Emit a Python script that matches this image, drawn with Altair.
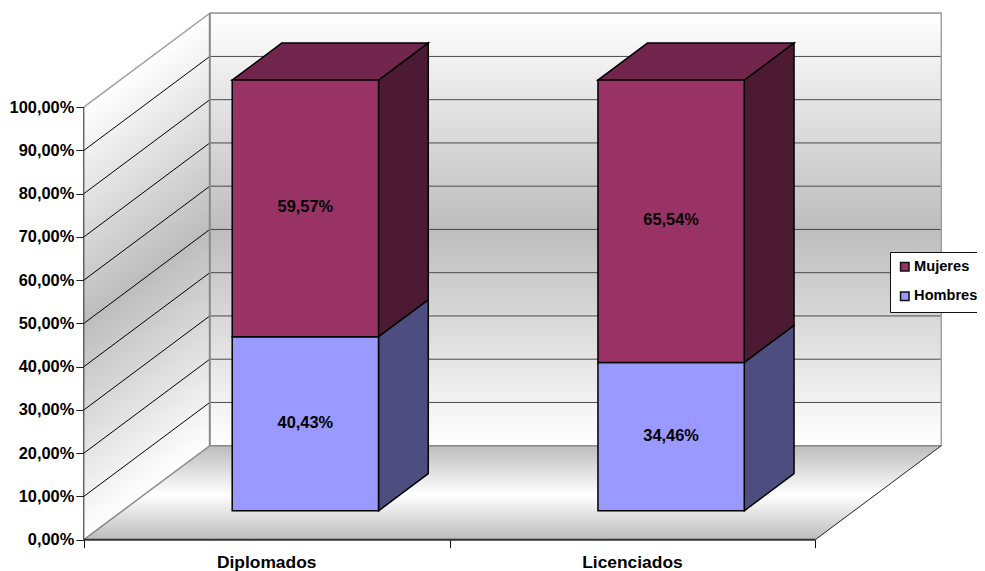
import altair as alt
import pandas as pd

categories = ["Diplomados", "Licenciados"]
series = ["Mujeres", "Hombres"]
mujeres = [59.57, 65.54]
hombres = [40.43, 34.46]
tick_values = [0, 10, 20, 30, 40, 50, 60, 70, 80, 90, 100]

# oblique projection: depth 0 = front of the box, depth 1 = back wall
W, H = 969, 563
ORIGIN_X, ORIGIN_Y = 75.8, 531.7      # plot pixel of category 0 / 0 %
PX_PER_CAT, PX_PER_PCT = 365.75, 4.325
DEPTH_X = 126 / PX_PER_CAT            # category units per unit of depth
DEPTH_Y = 94 / PX_PER_PCT             # percent units per unit of depth
BAR_W, BAR_D0, BAR_D = 0.40, 0.307, 0.395
BAR_SCALE = 0.996

x_scale = alt.Scale(domain=[-ORIGIN_X / PX_PER_CAT, (W - ORIGIN_X) / PX_PER_CAT], nice=False, zero=False)
y_scale = alt.Scale(domain=[(ORIGIN_Y - H) / PX_PER_PCT, ORIGIN_Y / PX_PER_PCT], nice=False, zero=False)

x_axis = alt.Axis(
    values=[0, 1, 2], orient="bottom", offset=-(H - ORIGIN_Y), domain=False, grid=False,
    labels=False, ticks=True, tickSize=8, tickColor="#111111", title=None)
y_axis = alt.Axis(
    values=tick_values, orient="left", offset=-ORIGIN_X, domain=False, grid=False,
    tickSize=8, tickColor="#222222", labelPadding=2, title=None,
    labelExpr="replace(format(datum.value, '.2f'), '.', ',') + '%'",
    labelFont="Liberation Sans", labelFontWeight="bold", labelFontSize=16.4,
    labelColor="#000000")


def px(cat, depth):
    return cat + depth * DEPTH_X


def py(val, depth):
    return val + depth * DEPTH_Y


def X(**k):
    return alt.X("x:Q", scale=x_scale, axis=x_axis, **k)


def Y(**k):
    return alt.Y("y:Q", scale=y_scale, axis=y_axis, **k)


def wall_gradient(x1, y1, x2, y2, stops):
    return alt.Gradient(
        gradient="linear", x1=x1, y1=y1, x2=x2, y2=y2,
        stops=[alt.GradientStop(color=c, offset=o) for o, c in stops],
    )


GREY = "#bdbdbd"
wall_stops = [(0, "#ffffff"), (0.5, GREY), (1, "#ffffff")]
floor_stops = [(0, "#bcbcbc"), (0.48, "#ffffff"), (1, "#bcbcbc")]

# back wall
back = alt.Chart(pd.DataFrame({
    "x": [px(0, 1), px(2, 1)], "y": [py(0, 1)] * 2, "y2": [py(100, 1)] * 2,
})).mark_area(color=wall_gradient(0, 0, 0, 1, wall_stops), orient="vertical").encode(
    x=X(), y=Y(), y2="y2:Q")

back_grid = alt.Chart(pd.DataFrame({
    "x": [px(0, 1)] * len(tick_values), "x2": [px(2, 1)] * len(tick_values),
    "y": [py(v, 1) for v in tick_values],
})).mark_rule(color="#4a4a4a", strokeWidth=1).encode(x=X(), x2="x2:Q", y=Y())

# left wall: gradient vector perpendicular to the depth direction in bbox space
left = alt.Chart(pd.DataFrame({
    "x": [px(0, 0), px(0, 1)], "y": [py(0, 0), py(0, 1)], "y2": [py(100, 0), py(100, 1)],
})).mark_area(color=wall_gradient(0, 0.1768, 0.1425, 0.9746, wall_stops), orient="vertical").encode(
    x=X(), y=Y(), y2="y2:Q")

left_rows = [
    {"x": px(0, d), "y": py(v, d), "tick": v}
    for v in tick_values[1:-1] for d in (0, 1)
]
left_grid = alt.Chart(pd.DataFrame(left_rows)).mark_line(color="#000000", strokeWidth=1).encode(
    x=X(), y=Y(), detail="tick:N")

# floor
floor = alt.Chart(pd.DataFrame({
    "y": [py(0, 0), py(0, 1)], "x": [px(0, 0), px(0, 1)], "x2": [px(2, 0), px(2, 1)],
})).mark_area(color=wall_gradient(0, 1, 0, 0, floor_stops), orient="horizontal").encode(
    x=X(), x2="x2:Q", y=Y())


def edge(points, color, width):
    df = pd.DataFrame([{"x": px(c, d), "y": py(v, d)} for c, v, d in points])
    return alt.Chart(df).mark_line(color=color, strokeWidth=width).encode(
        x=alt.X("x:Q", scale=x_scale, axis=x_axis, sort=None), y=Y())


edges = [
    edge([(0, 100, 0), (0, 100, 1), (2, 100, 1), (2, 0, 1)], "#a0a0a0", 1.5),
    edge([(0, 0, 1), (0, 100, 1)], "#888888", 2),
    edge([(0, 0, 0), (0, 0, 1), (2, 0, 1)], "#8a8a8a", 1.5),
    edge([(2, 0, 0), (2, 0, 1)], "#222222", 1),
    edge([(0, 0, 0), (2, 0, 0)], "#333333", 2),
    edge([(0, 0, 0), (0, 100, 0)], "#222222", 1),
]

# bars
front_rows, side_rows, top_rows, label_rows = [], [], [], []
for i, cat in enumerate(categories):
    x0 = i + 0.5 - BAR_W / 2
    x1 = i + 0.5 + BAR_W / 2
    base = 0.0
    for name, val in (("Hombres", hombres[i]), ("Mujeres", mujeres[i])):
        lo, hi = base * BAR_SCALE, (base + val) * BAR_SCALE
        front_rows.append({"x": px(x0, BAR_D0), "x2": px(x1, BAR_D0),
                           "y": py(lo, BAR_D0), "y2": py(hi, BAR_D0), "series": name})
        for d in (BAR_D0, BAR_D0 + BAR_D):
            side_rows.append({"x": px(x1, d), "y": py(lo, d), "y2": py(hi, d),
                              "series": name, "face": f"{cat}-{name}"})
        label_rows.append({"x": px(i + 0.5, BAR_D0), "y": py((lo + hi) / 2, BAR_D0),
                           "label": f"{val:.2f}".replace(".", ",") + "%"})
        base += val
    for d in (BAR_D0, BAR_D0 + BAR_D):
        top_rows.append({"x": px(x0, d), "x2": px(x1, d), "y": py(base * BAR_SCALE, d), "face": cat})

STROKE = dict(stroke="#000000", strokeWidth=1.5)

sides = alt.Chart(pd.DataFrame(side_rows)).mark_area(orient="vertical", **STROKE).encode(
    x=X(), y=Y(), y2="y2:Q", detail="face:N",
    color=alt.Color("series:N", legend=None,
                    scale=alt.Scale(domain=series, range=["#4d1a33", "#4d4d80"])))

tops = alt.Chart(pd.DataFrame(top_rows)).mark_area(orient="horizontal", color="#73264d", **STROKE).encode(
    x=X(), x2="x2:Q", y=Y(), detail="face:N")

fronts = alt.Chart(pd.DataFrame(front_rows)).mark_rect(**STROKE).encode(
    x=X(), x2="x2:Q", y=Y(), y2="y2:Q",
    color=alt.Color("series:N", sort=series, title=None,
                    scale=alt.Scale(domain=series, range=["#993366", "#9999ff"]),
                    legend=alt.Legend(
                        orient="none", legendX=882, legendY=244, fillColor="#ffffff",
                        strokeColor="#111111", padding=7.5, symbolType="square", symbolSize=72,
                        symbolStrokeColor="#111111", symbolStrokeWidth=1.5, rowPadding=13.5,
                        labelFont="Liberation Sans", labelFontWeight="bold", labelFontSize=14.6,
                        labelColor="#000000", labelOffset=2, labelLimit=200)))

labels = alt.Chart(pd.DataFrame(label_rows)).mark_text(
    font="Liberation Sans", fontWeight="bold", fontSize=16.4, color="#000000", baseline="middle", dy=-1
).encode(x=X(), y=Y(), text="label:N")

cat_labels = alt.Chart(pd.DataFrame({
    "x": [i + 0.5 for i in range(len(categories))], "y": [0, 0], "label": categories,
})).mark_text(
    font="Liberation Sans", fontWeight="bold", fontSize=17.4, color="#000000", baseline="middle", dy=23
).encode(x=X(), y=Y(), text="label:N")

chart = alt.layer(
    back, back_grid, left, left_grid, floor, *edges, sides, tops, fronts, labels, cat_labels
).resolve_scale(color="independent").properties(
    width=W, height=H, padding=0, autosize=alt.AutoSizeParams(type="none"),
    background="#ffffff",
).configure_view(stroke=None)

chart.save("out.html", embed_options={"renderer": "svg", "actions": False})
